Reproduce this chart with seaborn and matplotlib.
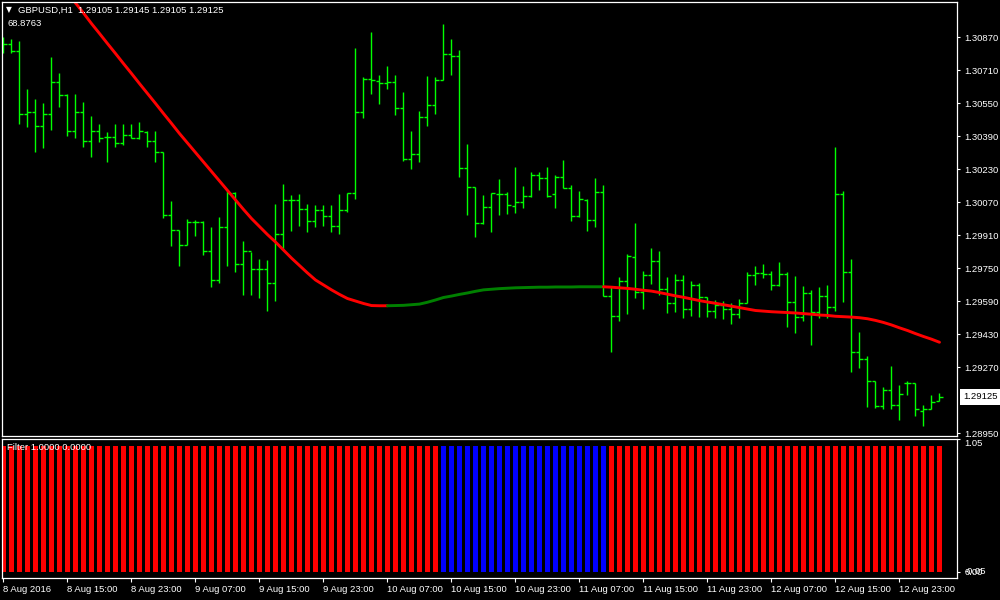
import numpy as np
import pandas as pd
import matplotlib
matplotlib.use("Agg")
import matplotlib.pyplot as plt
import matplotlib.transforms as mtransforms
import seaborn as sns

# ---------------- data (GBPUSD H1) ----------------
opens = [1.30836, 1.30836, 1.30802, 1.30497, 1.30507, 1.30439, 1.30497, 1.30652, 1.30589, 1.30415,
         1.30507, 1.30366, 1.30415, 1.30386, 1.30386, 1.30356, 1.30395, 1.30381, 1.30410, 1.30366,
         1.30313, 1.30007, 1.29935, 1.29862, 1.29973, 1.29973, 1.29832, 1.29692, 1.29949, 1.30114,
         1.29769, 1.29832, 1.29745, 1.29745, 1.29678, 1.29915, 1.30080, 1.30080, 1.30036, 1.29978,
         1.30031, 1.30002, 1.29954, 1.30031, 1.30114, 1.30507, 1.30667, 1.30657, 1.30647, 1.30652,
         1.30526, 1.30279, 1.30303, 1.30482, 1.30540, 1.30662, 1.30787, 1.30778, 1.30235, 1.30143,
         1.29968, 1.30046, 1.30109, 1.30109, 1.30051, 1.30070, 1.30100, 1.30201, 1.30187, 1.30109,
         1.30192, 1.30138, 1.30002, 1.30080, 1.29983, 1.30119, 1.29614, 1.29517, 1.29687, 1.29803,
         1.29634, 1.29716, 1.29784, 1.29649, 1.29580, 1.29692, 1.29551, 1.29668, 1.29610, 1.29542,
         1.29571, 1.29551, 1.29527, 1.29580, 1.29716, 1.29726, 1.29721, 1.29668, 1.29721, 1.29585,
         1.29512, 1.29629, 1.29537, 1.29614, 1.29561, 1.30109, 1.29731, 1.29343, 1.29309, 1.29202,
         1.29081, 1.29159, 1.29086, 1.29193, 1.29193, 1.29057, 1.29066, 1.29105]
highs = [1.30870, 1.30860, 1.30850, 1.30618, 1.30570, 1.30550, 1.30774, 1.30696, 1.30594, 1.30594,
         1.30555, 1.30487, 1.30449, 1.30410, 1.30449, 1.30449, 1.30449, 1.30458, 1.30415, 1.30415,
         1.30313, 1.30075, 1.29935, 1.29988, 1.29983, 1.29978, 1.29949, 1.29998, 1.30124, 1.30119,
         1.29881, 1.29827, 1.29794, 1.29789, 1.30061, 1.30158, 1.30104, 1.30109, 1.30061, 1.30056,
         1.30056, 1.30056, 1.30109, 1.30114, 1.30816, 1.30677, 1.30894, 1.30686, 1.30730, 1.30686,
         1.30604, 1.30415, 1.30511, 1.30681, 1.30677, 1.30933, 1.30860, 1.30807, 1.30352, 1.30143,
         1.30104, 1.30114, 1.30182, 1.30119, 1.30240, 1.30148, 1.30216, 1.30216, 1.30240, 1.30201,
         1.30274, 1.30153, 1.30124, 1.30085, 1.30187, 1.30153, 1.29658, 1.29707, 1.29818, 1.29968,
         1.29735, 1.29847, 1.29832, 1.29707, 1.29721, 1.29716, 1.29687, 1.29678, 1.29610, 1.29595,
         1.29590, 1.29580, 1.29600, 1.29731, 1.29760, 1.29769, 1.29735, 1.29779, 1.29731, 1.29711,
         1.29663, 1.29644, 1.29658, 1.29668, 1.30337, 1.30124, 1.29794, 1.29440, 1.29323, 1.29202,
         1.29173, 1.29275, 1.29183, 1.29202, 1.29193, 1.29086, 1.29134, 1.29145]
lows = [1.30792, 1.30792, 1.30449, 1.30434, 1.30313, 1.30332, 1.30420, 1.30531, 1.30390, 1.30381,
        1.30337, 1.30289, 1.30361, 1.30264, 1.30337, 1.30347, 1.30381, 1.30376, 1.30337, 1.30264,
        1.29993, 1.29857, 1.29760, 1.29862, 1.29905, 1.29813, 1.29658, 1.29678, 1.29760, 1.29731,
        1.29619, 1.29619, 1.29605, 1.29542, 1.29590, 1.29842, 1.29929, 1.29954, 1.29924, 1.29949,
        1.29954, 1.29924, 1.29915, 1.30022, 1.30085, 1.30478, 1.30594, 1.30545, 1.30618, 1.30492,
        1.30269, 1.30230, 1.30264, 1.30439, 1.30497, 1.30662, 1.30686, 1.30192, 1.30007, 1.29900,
        1.29963, 1.29924, 1.30007, 1.30012, 1.30017, 1.30041, 1.30095, 1.30128, 1.30095, 1.30041,
        1.30138, 1.29978, 1.29998, 1.29929, 1.29949, 1.29614, 1.29343, 1.29493, 1.29527, 1.29605,
        1.29551, 1.29673, 1.29619, 1.29532, 1.29537, 1.29508, 1.29517, 1.29512, 1.29512, 1.29508,
        1.29503, 1.29479, 1.29508, 1.29580, 1.29668, 1.29702, 1.29644, 1.29663, 1.29464, 1.29435,
        1.29493, 1.29377, 1.29508, 1.29508, 1.29542, 1.29585, 1.29246, 1.29265, 1.29076, 1.29071,
        1.29066, 1.29066, 1.29013, 1.29134, 1.29032, 1.28984, 1.29066, 1.29105]
closes = [1.30836, 1.30802, 1.30497, 1.30507, 1.30439, 1.30497, 1.30652, 1.30589, 1.30415, 1.30507,
          1.30366, 1.30415, 1.30381, 1.30386, 1.30356, 1.30395, 1.30381, 1.30415, 1.30366, 1.30313,
          1.30007, 1.29935, 1.29862, 1.29973, 1.29973, 1.29832, 1.29692, 1.29949, 1.30114, 1.29769,
          1.29832, 1.29745, 1.29745, 1.29678, 1.29915, 1.30080, 1.30080, 1.30036, 1.29978, 1.30031,
          1.30002, 1.29954, 1.30031, 1.30114, 1.30507, 1.30667, 1.30662, 1.30647, 1.30652, 1.30526,
          1.30279, 1.30303, 1.30482, 1.30540, 1.30662, 1.30787, 1.30778, 1.30235, 1.30143, 1.29968,
          1.30046, 1.30114, 1.30109, 1.30056, 1.30070, 1.30100, 1.30201, 1.30187, 1.30100, 1.30192,
          1.30138, 1.30002, 1.30085, 1.29983, 1.30119, 1.29614, 1.29517, 1.29687, 1.29808, 1.29634,
          1.29716, 1.29784, 1.29649, 1.29580, 1.29692, 1.29551, 1.29668, 1.29610, 1.29542, 1.29571,
          1.29551, 1.29527, 1.29580, 1.29716, 1.29726, 1.29721, 1.29668, 1.29721, 1.29585, 1.29512,
          1.29629, 1.29537, 1.29614, 1.29561, 1.30109, 1.29731, 1.29343, 1.29309, 1.29202, 1.29081,
          1.29159, 1.29086, 1.29139, 1.29193, 1.29066, 1.29066, 1.29100, 1.29125]

# smoothed trend line (value per bar) and its colour state per segment ending at that bar
ma_values = [1.31486, 1.31437, 1.31389, 1.31335, 1.31287, 1.31234, 1.31185, 1.31132, 1.31083, 1.31035,
             1.30986, 1.30935, 1.30887, 1.30838, 1.30790, 1.30741, 1.30693, 1.30644, 1.30596, 1.30548,
             1.30499, 1.30451, 1.30402, 1.30356, 1.30310, 1.30264, 1.30218, 1.30172, 1.30126, 1.30080,
             1.30034, 1.29990, 1.29951, 1.29912, 1.29876, 1.29837, 1.29798, 1.29762, 1.29726, 1.29692,
             1.29668, 1.29644, 1.29622, 1.29602, 1.29590, 1.29578, 1.29568, 1.29567, 1.29567, 1.29568,
             1.29569, 1.29572, 1.29575, 1.29584, 1.29595, 1.29607, 1.29614, 1.29622, 1.29629, 1.29637,
             1.29644, 1.29647, 1.29650, 1.29652, 1.29654, 1.29655, 1.29656, 1.29657, 1.29657, 1.29658,
             1.29658, 1.29658, 1.29659, 1.29659, 1.29659, 1.29659, 1.29657, 1.29654, 1.29651, 1.29647,
             1.29642, 1.29638, 1.29631, 1.29623, 1.29615, 1.29608, 1.29600, 1.29592, 1.29585, 1.29579,
             1.29572, 1.29565, 1.29558, 1.29551, 1.29544, 1.29541, 1.29538, 1.29536, 1.29534, 1.29532,
             1.29529, 1.29526, 1.29522, 1.29520, 1.29516, 1.29514, 1.29512, 1.29509, 1.29504, 1.29496,
             1.29486, 1.29474, 1.29460, 1.29447, 1.29432, 1.29418, 1.29405, 1.29390]
ma_state = ["down"] * 49 + ["up"] * 27 + ["down"] * 42

filter_values = [1.0] * 118
filter_state = ["down"] * 55 + ["up"] * 21 + ["down"] * 42

# 1.29110 is hidden under the current-price label in the reference
price_ticks = [1.30870, 1.30710, 1.30550, 1.30390, 1.30230, 1.30070, 1.29910,
               1.29750, 1.29590, 1.29430, 1.29270, 1.28950]
time_tick_bars = [0, 8, 16, 24, 32, 40, 48, 56, 64, 72, 80, 88, 96, 104, 112]
time_tick_labels = ["8 Aug 2016", "8 Aug 15:00", "8 Aug 23:00", "9 Aug 07:00", "9 Aug 15:00",
                    "9 Aug 23:00", "10 Aug 07:00", "10 Aug 15:00", "10 Aug 23:00", "11 Aug 07:00",
                    "11 Aug 15:00", "11 Aug 23:00", "12 Aug 07:00", "12 Aug 15:00", "12 Aug 23:00"]
header = "GBPUSD,H1  1.29105 1.29145 1.29105 1.29125"
last_price = 1.29125

# ---------------- style ----------------
sns.set_theme(style="dark")
plt.rcParams['font.family'] = ['Liberation Sans', 'DejaVu Sans']
FS = 6.8
WHITE = "white"
BAR_GREEN = "#00ff00"
LINE_COLORS = {"down": "#ff0000", "up": "#008000"}
FILTER_COLORS = {"down": "#ff0000", "up": "#0000ff"}

fig = plt.figure(figsize=(10, 6), dpi=100)
fig.patch.set_facecolor("black")
ax = fig.add_axes([0.0015, 1 - 436 / 600, 0.9555, (436 - 2) / 600])
ax2 = fig.add_axes([0.0015, 1 - 578.3 / 600, 0.9555, (578.3 - 438.7) / 600])

for a in (ax, ax2):
    a.set_facecolor("black")
    a.grid(False)
    for s in a.spines.values():
        s.set_color(WHITE)
        s.set_linewidth(0.9)
        s.set_visible(True)

idx = np.arange(len(closes))

# ---------------- price bars (OHLC) ----------------
ax.vlines(idx, lows, highs, color=BAR_GREEN, lw=1.0)
ax.hlines(opens, idx - 0.38, idx, color=BAR_GREEN, lw=1.0)
ax.hlines(closes, idx, idx + 0.38, color=BAR_GREEN, lw=1.0)

# ---------------- trend line (coloured runs) ----------------
ma_df = pd.DataFrame({"bar": idx, "ma": ma_values, "state": ma_state})
runs = []
start = 0
for i in range(1, len(ma_state) + 1):
    if i == len(ma_state) or ma_state[i] != ma_state[start]:
        runs.append((start, i - 1, ma_state[start]))
        start = i
for s0, e0, st in runs:
    seg = ma_df.iloc[max(s0 - 1, 0):e0 + 1]
    sns.lineplot(data=seg, x="bar", y="ma", color=LINE_COLORS[st], lw=2.1, ax=ax,
                 legend=False, sort=True)

# ---------------- filter histogram ----------------
filt_df = pd.DataFrame({"bar": idx, "value": filter_values, "state": filter_state})
sns.barplot(data=filt_df, x="bar", y="value", hue="state", palette=FILTER_COLORS,
            native_scale=True, width=0.6, dodge=False, errorbar=None, legend=False,
            saturation=1, linewidth=0, ax=ax2)

# ---------------- axes ----------------
x_lo, x_hi = -0.25, 119.19
for a in (ax, ax2):
    a.set_xlim(x_lo, x_hi)
    a.set_xlabel("")
    a.set_ylabel("")

ax.set_ylim(1.289355, 1.310397)
ax.set_yticks(price_ticks)
ax.set_yticklabels([f"{v:.5f}" for v in price_ticks])
ax.yaxis.tick_right()
ax.tick_params(axis="y", right=True, left=False, labelright=True, labelleft=False,
               colors=WHITE, length=2.5, width=0.8, pad=3, labelsize=FS)
ax.tick_params(axis="x", bottom=False, labelbottom=False)

ax2.set_ylim(-0.052, 1.056)
ax2.set_yticks([1.05, 0.0])
ax2.set_yticklabels(["1.05", "0.00"])
ax2.yaxis.tick_right()
ax2.tick_params(axis="y", right=True, left=False, labelright=True, labelleft=False,
                colors=WHITE, length=2.5, width=0.8, pad=3, labelsize=FS)
ax2.get_yticklabels()[0].set_verticalalignment("top")
ax2.set_xticks(time_tick_bars)
ax2.set_xticklabels(time_tick_labels)
ax2.tick_params(axis="x", bottom=True, colors=WHITE, length=3, width=0.8, pad=2, labelsize=FS)
for lab in ax2.get_xticklabels():
    lab.set_horizontalalignment("left")

# overlapping lower scale label of the indicator window (drawn over "0.00" as in the terminal)
trans2 = mtransforms.blended_transform_factory(ax2.transAxes, ax2.transData)
ax2.text(1.0, 0.0, "-0.05", transform=trans2 + mtransforms.ScaledTranslation(5.3 / 72, 0, fig.dpi_scale_trans),
         color=WHITE, fontsize=FS, ha="left", va="center", clip_on=False)

# current price label
trans = mtransforms.blended_transform_factory(ax.transAxes, ax.transData)
ax.text(1.0, last_price, f"{last_price:.5f}",
        transform=trans + mtransforms.ScaledTranslation(4.2 / 72, 0, fig.dpi_scale_trans),
        color="black", fontsize=FS, ha="left", va="center", clip_on=False, zorder=10,
        bbox=dict(boxstyle="square,pad=0.35", fc="white", ec="none"))

# ---------------- header texts ----------------
fig.text(8.5 / 1000, 1 - 10 / 600, "\u25bc", color=WHITE, fontsize=5.5, ha="center", va="center",
         family=["DejaVu Sans"])
fig.text(18 / 1000, 1 - 10 / 600, header, color=WHITE, fontsize=FS, ha="left", va="center")
fig.text(7 / 1000, 1 - 23.5 / 600, "68.8763", color=WHITE, fontsize=FS, ha="left", va="center")
fig.text(7 / 1000, 1 - 447 / 600, "Filter 1.0000 0.0000", color=WHITE, fontsize=FS, ha="left", va="center")

fig.savefig("out.png", dpi=100, facecolor="black")
